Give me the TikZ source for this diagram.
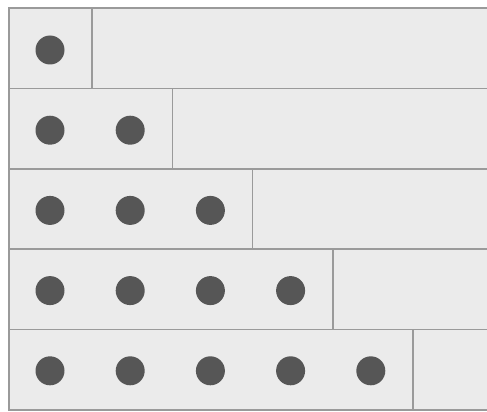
\documentclass[tikz,border=0pt]{standalone}
\definecolor{cellfill}{HTML}{EBEBEB}
\definecolor{cellline}{HTML}{9A9A9A}
\definecolor{dotfill}{HTML}{565656}
\tikzset{
  rowbox/.style={draw=cellline, fill=cellfill, line width=1.6pt},
  divider/.style={draw=cellline, line width=1.6pt},
  dot/.style={circle, fill=dotfill, draw=none, minimum size=29pt, inner sep=0pt}
}
\begin{document}
\begin{tikzpicture}[x=1pt,y=-1pt]
\useasboundingbox (0,0) rectangle (487,412);
\fill[white] (0,0) rectangle (487,412);
\begin{scope}
\clip (0,0) rectangle (487,412);
\foreach \r in {1,...,5}{
  \pgfmathsetmacro{\top}{8+80.4*(\r-1)}
  \pgfmathsetmacro{\bot}{8+80.4*\r}
  \draw[rowbox] (9,\top) rectangle (492,\bot);
  \pgfmathsetmacro{\vx}{12+80.2*\r}
  \draw[divider] (\vx,\top) -- (\vx,\bot);
  \foreach \c in {1,...,\r}{
    \node[dot] (d\r\c) at ({50+80.2*(\c-1)},{50+80.2*(\r-1)}) {};
  }
}
\end{scope}
\end{tikzpicture}
\end{document}
